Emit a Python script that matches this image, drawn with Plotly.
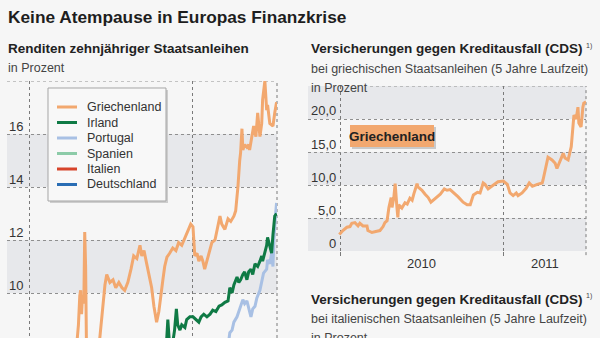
import plotly.graph_objects as go

W, H = 600, 338
FONT = "Liberation Sans, Arial, sans-serif"
BG = "#f6f6f6"
BAND = "#e7e8eb"
GRID = "#8f8f8f"
VGRID = "#7a7a7a"

# ---------------- left chart: 10-year government bond yields (%) ----------------
series_names = ["Griechenland", "Irland", "Portugal", "Spanien", "Italien", "Deutschland"]
series_colors = ["#f2a86f", "#0f7a45", "#a8c0e4", "#8ccba8", "#d7442b", "#2a6db4"]

gr_dates = ["2009-11-13", "2009-12-15", "2010-01-15", "2010-02-01", "2010-03-01", "2010-04-01",
            "2010-04-15", "2010-04-17", "2010-04-21", "2010-04-24", "2010-04-26", "2010-04-28",
            "2010-04-30", "2010-05-03", "2010-05-05", "2010-05-07", "2010-05-09", "2010-05-16",
            "2010-05-27", "2010-06-07", "2010-06-14", "2010-06-19", "2010-06-23", "2010-06-30",
            "2010-07-07", "2010-07-13", "2010-07-20", "2010-07-27", "2010-08-02", "2010-08-09",
            "2010-08-16", "2010-08-22", "2010-08-29", "2010-09-05", "2010-09-09", "2010-09-14",
            "2010-09-20", "2010-09-27", "2010-10-01", "2010-10-06", "2010-10-10", "2010-10-12",
            "2010-10-17", "2010-10-21", "2010-10-26", "2010-10-30", "2010-11-04", "2010-11-10",
            "2010-11-17", "2010-11-24", "2010-11-30", "2010-12-07", "2010-12-14", "2010-12-21",
            "2010-12-27", "2011-01-01", "2011-01-05", "2011-01-10", "2011-01-14", "2011-01-19",
            "2011-01-23", "2011-01-27", "2011-02-01", "2011-02-05", "2011-02-12", "2011-02-19",
            "2011-02-25", "2011-03-02", "2011-03-06", "2011-03-13", "2011-03-20", "2011-03-26",
            "2011-04-02", "2011-04-06", "2011-04-11", "2011-04-13", "2011-04-15", "2011-04-17",
            "2011-04-20", "2011-04-22", "2011-04-26", "2011-05-01", "2011-05-05", "2011-05-07",
            "2011-05-12", "2011-05-16", "2011-05-21", "2011-05-25", "2011-05-30", "2011-06-03",
            "2011-06-05", "2011-06-10", "2011-06-14", "2011-06-16", "2011-06-21", "2011-06-28",
            "2011-07-02", "2011-07-06"]
gr_vals = [4.8, 5.6, 6.0, 6.8, 6.3, 7.0,
           7.4, 8.0, 8.8, 9.9, 10.1, 9.2,
           9.9, 9.6, 12.3, 11.0, 7.8, 7.7,
           7.9, 8.2, 9.5, 10.3, 10.7, 10.4,
           10.5, 10.2, 10.4, 10.2, 10.1, 10.4,
           10.9, 11.4, 11.3, 11.8, 11.4, 11.6,
           11.1, 10.6, 10.2, 9.5, 9.0, 8.9,
           9.3, 9.9, 10.5, 11.0, 11.35, 11.5,
           11.7, 11.6, 11.9, 11.8, 12.1, 12.4,
           12.6, 12.5, 11.4, 11.5, 11.2, 11.4,
           11.2, 10.9, 11.2, 11.5, 11.9, 12.0,
           12.5, 12.9, 12.6, 12.4, 12.8, 12.7,
           12.9, 13.1, 14.0, 14.6, 15.0, 15.3,
           16.2, 15.4, 15.6, 15.5, 15.6, 15.4,
           15.9, 16.3, 15.9, 16.8, 15.9, 16.4,
           17.3, 18.0, 16.9, 17.1, 16.4, 16.3,
           16.8, 17.2]

ie_dates = ["2009-11-13", "2010-01-15", "2010-04-01", "2010-06-01", "2010-08-01", "2010-09-15",
            "2010-10-15", "2010-11-01", "2010-11-02", "2010-11-06", "2010-11-10", "2010-11-15",
            "2010-11-21", "2010-11-25", "2010-11-28", "2010-12-03", "2010-12-07", "2010-12-14",
            "2010-12-18", "2010-12-25", "2011-01-01", "2011-01-07", "2011-01-14", "2011-01-19",
            "2011-01-25", "2011-02-01", "2011-02-08", "2011-02-14", "2011-02-21", "2011-02-28",
            "2011-03-06", "2011-03-13", "2011-03-20", "2011-03-24", "2011-03-29", "2011-04-02",
            "2011-04-09", "2011-04-13", "2011-04-17", "2011-04-22", "2011-04-26", "2011-05-01",
            "2011-05-05", "2011-05-10", "2011-05-14", "2011-05-19", "2011-05-25", "2011-05-30",
            "2011-06-03", "2011-06-05", "2011-06-10", "2011-06-14", "2011-06-16", "2011-06-21",
            "2011-06-25", "2011-06-28", "2011-07-02", "2011-07-06"]
ie_vals = [4.8, 4.7, 4.5, 5.2, 5.4, 6.3,
           6.6, 7.5, 7.9, 9.0, 8.0, 7.9,
           8.6, 9.4, 8.8, 8.6, 8.8, 8.7,
           9.0, 9.1, 9.1, 9.0, 8.9, 9.1,
           9.2, 9.1, 9.2, 9.35, 9.3, 9.5,
           9.55, 9.65, 9.7, 10.2, 10.0, 10.3,
           10.6, 10.4, 10.5, 10.7, 10.8, 10.5,
           10.8, 10.9, 10.7, 11.1, 11.0, 11.2,
           11.4, 11.2, 11.6, 11.8, 12.1, 11.7,
           11.5, 12.2, 12.9, 13.0]

pt_dates = ["2009-11-13", "2010-01-15", "2010-04-15", "2010-05-15", "2010-06-15", "2010-08-15",
            "2010-09-15", "2010-11-15", "2010-12-15", "2011-01-15", "2011-02-15", "2011-03-10",
            "2011-03-20", "2011-03-24", "2011-03-29", "2011-04-02", "2011-04-09", "2011-04-15",
            "2011-04-22", "2011-04-26", "2011-05-01", "2011-05-10", "2011-05-14", "2011-05-19",
            "2011-05-23", "2011-05-30", "2011-06-03", "2011-06-07", "2011-06-14", "2011-06-16",
            "2011-06-21", "2011-06-25", "2011-06-28", "2011-06-30", "2011-07-04", "2011-07-06"]
pt_vals = [4.0, 4.2, 4.8, 5.5, 5.7, 5.5,
           6.3, 7.0, 6.8, 7.0, 7.4, 7.6,
           8.0, 8.5, 8.6, 8.9, 9.1, 9.4,
           9.75, 9.6, 9.7, 9.1, 9.4, 9.5,
           9.8, 10.1, 10.5, 10.75, 10.9, 11.25,
           11.1, 11.5, 11.0, 12.0, 13.0, 13.4]

es_dates = ["2009-11-13", "2010-03-01", "2010-06-15", "2010-09-01", "2010-11-30", "2011-01-10",
            "2011-04-01", "2011-07-06"]
es_vals = [3.8, 3.9, 4.8, 4.1, 5.4, 5.5, 5.3, 5.7]

it_dates = ["2009-11-13", "2010-03-01", "2010-06-15", "2010-09-01", "2010-11-30", "2011-01-10",
            "2011-04-01", "2011-07-06"]
it_vals = [4.0, 4.0, 4.2, 3.9, 4.6, 4.8, 4.7, 5.2]

de_dates = ["2009-11-13", "2010-03-01", "2010-06-15", "2010-09-01", "2010-11-30", "2011-01-10",
            "2011-04-01", "2011-07-06"]
de_vals = [3.3, 3.1, 2.6, 2.3, 2.7, 2.9, 3.4, 2.9]

left_ticks = [8, 10, 12, 14, 16]
left_ticktext = ["8", "10", "12", "14", "16"]
left_bands = [(10, 12), (14, 16)]

# ---------------- right chart: Greek CDS (%) ----------------
cds_dates = ["2009-12-30", "2010-01-07", "2010-01-16", "2010-01-23", "2010-01-27", "2010-02-03",
             "2010-02-10", "2010-02-14", "2010-02-21", "2010-03-02", "2010-03-04", "2010-03-13",
             "2010-03-24", "2010-03-31", "2010-04-07", "2010-04-11", "2010-04-16", "2010-04-20",
             "2010-04-25", "2010-04-27", "2010-05-01", "2010-05-04", "2010-05-08", "2010-05-10",
             "2010-05-12", "2010-05-19", "2010-05-26", "2010-05-31", "2010-06-06", "2010-06-11",
             "2010-06-15", "2010-06-22", "2010-06-24", "2010-07-03", "2010-07-10", "2010-07-17",
             "2010-07-23", "2010-07-28", "2010-08-06", "2010-08-13", "2010-08-22", "2010-08-28",
             "2010-09-04", "2010-09-11", "2010-09-22", "2010-10-03", "2010-10-12", "2010-10-19",
             "2010-10-26", "2010-11-04", "2010-11-10", "2010-11-17", "2010-11-21", "2010-11-28",
             "2010-12-07", "2010-12-14", "2010-12-20", "2011-01-01", "2011-01-10", "2011-01-16",
             "2011-01-23", "2011-01-30", "2011-02-03", "2011-02-12", "2011-02-21", "2011-02-28",
             "2011-03-07", "2011-03-18", "2011-03-29", "2011-03-31", "2011-04-07", "2011-04-11",
             "2011-04-20", "2011-04-27", "2011-05-01", "2011-05-08", "2011-05-15", "2011-05-19",
             "2011-05-26", "2011-06-02", "2011-06-04", "2011-06-08", "2011-06-13", "2011-06-17",
             "2011-06-19", "2011-06-24", "2011-06-28", "2011-06-30", "2011-07-05"]
cds_vals = [2.5, 3.1, 3.6, 3.7, 4.2, 4.3,
            3.8, 4.2, 3.8, 3.8, 3.1, 2.8,
            3.0, 3.1, 3.7, 4.3, 4.6, 6.6,
            8.1, 6.6, 8.1, 10.2, 6.6, 5.1,
            7.0, 6.5, 7.3, 7.1, 8.0, 7.7,
            8.7, 10.2, 9.7, 9.2, 8.6, 8.1,
            7.4, 7.7, 8.1, 8.6, 9.4, 9.2,
            9.3, 8.9, 8.2, 7.4, 7.0, 7.0,
            8.5, 8.9, 8.8, 10.3, 10.1, 9.4,
            9.8, 10.1, 10.5, 10.6, 10.1, 8.8,
            8.4, 8.8, 8.4, 8.8, 9.5, 10.3,
            9.8, 10.1, 10.3, 10.8, 12.7, 14.2,
            13.8, 13.3, 12.5, 13.8, 14.8, 14.1,
            13.8, 15.8, 17.6, 20.6, 20.0, 21.8,
            19.4, 18.8, 21.8, 22.4, 22.6]

cds_ticks = [0, 5, 10, 15, 20]
cds_ticktext = ["0", "5,0", "10,0", "15,0", "20,0"]
cds_bands = [(0, 5), (10, 15), (20, 25)]
year_label_dates = ["2010-07-02", "2011-04-04"]
year_labels = ["2010", "2011"]
year_bounds = ["2010-01-01", "2011-01-01"]


def px(x):
    return x / W


def py(y):
    return 1 - y / H


fig = go.Figure()

left_series = {
    "Griechenland": (gr_dates, gr_vals),
    "Irland": (ie_dates, ie_vals),
    "Portugal": (pt_dates, pt_vals),
    "Spanien": (es_dates, es_vals),
    "Italien": (it_dates, it_vals),
    "Deutschland": (de_dates, de_vals),
}
for name in reversed(series_names):
    d, v = left_series[name]
    col = series_colors[series_names.index(name)]
    fig.add_trace(go.Scatter(x=d, y=v, mode="lines", name=name, showlegend=False,
                             line=dict(color=col, width=3), xaxis="x", yaxis="y",
                             hoverinfo="skip"))

fig.add_trace(go.Scatter(x=cds_dates, y=cds_vals, mode="lines", name="Griechenland CDS",
                         showlegend=False, line=dict(color=series_colors[0], width=3),
                         xaxis="x2", yaxis="y2", hoverinfo="skip"))

shapes = []
for y0, y1 in left_bands:
    shapes.append(dict(type="rect", xref="x domain", yref="y", x0=0, x1=1, y0=y0, y1=y1,
                       fillcolor=BAND, line=dict(width=0), layer="below"))
for y0, y1 in cds_bands:
    shapes.append(dict(type="rect", xref="x2 domain", yref="y2", x0=0, x1=1, y0=y0, y1=y1,
                       fillcolor=BAND, line=dict(width=0), layer="below"))
# top line left chart
shapes.append(dict(type="line", xref="x domain", yref="y", x0=0, x1=1, y0=18, y1=18,
                   line=dict(color=GRID, width=1, dash="dot"), layer="below"))
# right edge lines
shapes.append(dict(type="line", xref="x domain", yref="y domain", x0=1, x1=1, y0=0, y1=1,
                   line=dict(color=VGRID, width=1, dash="dot"), layer="below"))
shapes.append(dict(type="line", xref="x2 domain", yref="y2 domain", x0=1, x1=1, y0=-0.025, y1=1,
                   line=dict(color=VGRID, width=1, dash="dot"), layer="below"))
# top line right chart (starts after "in Prozent")
shapes.append(dict(type="line", xref="paper", yref="y2", x0=px(370), x1=px(586), y0=25, y1=25,
                   line=dict(color=GRID, width=1, dash="dot"), layer="below"))

annotations = []

# legend box
shapes.append(dict(type="rect", xref="paper", yref="paper", x0=px(50), x1=px(168),
                   y0=py(203), y1=py(90), fillcolor="#cdcdcd", line=dict(width=0), layer="above"))
shapes.append(dict(type="rect", xref="paper", yref="paper", x0=px(48), x1=px(166),
                   y0=py(201), y1=py(88), fillcolor="#f8f8f8",
                   line=dict(color="#a5a5a5", width=1), layer="above"))
for i, (name, col) in enumerate(zip(series_names, series_colors)):
    yy = 107 + 15.5 * i
    shapes.append(dict(type="line", xref="paper", yref="paper", x0=px(57), x1=px(77),
                       y0=py(yy), y1=py(yy), line=dict(color=col, width=3), layer="above"))
    annotations.append(dict(text=name, x=px(85), y=py(yy), xref="paper", yref="paper",
                            xanchor="left", yanchor="middle", showarrow=False,
                            font=dict(family=FONT, size=12.5, color="#333")))

# Griechenland label box in CDS chart
shapes.append(dict(type="rect", xref="paper", yref="paper", x0=px(352), x1=px(436),
                   y0=py(149), y1=py(127), fillcolor="#c9c9c9", line=dict(width=0), layer="above"))
shapes.append(dict(type="rect", xref="paper", yref="paper", x0=px(350), x1=px(434),
                   y0=py(147), y1=py(125), fillcolor="#f2a86f", line=dict(width=0), layer="above"))
annotations.append(dict(text="<b>Griechenland</b>", x=px(392), y=py(136), xref="paper",
                        yref="paper", xanchor="center", yanchor="middle", showarrow=False,
                        font=dict(family=FONT, size=13.5, color="#222")))

texts = [
    ("<b>Keine Atempause in Europas Finanzkrise</b>", 6, 17, 17.3, "#1e1e1e"),
    ("<b>Renditen zehnjähriger Staatsanleihen</b>", 6, 48, 13.5, "#222"),
    ("in Prozent", 6, 68, 12.5, "#444"),
    ("<b>Versicherungen gegen Kreditausfall (CDS)</b>", 309, 49, 13.5, "#222"),
    ("bei griechischen Staatsanleihen (5 Jahre Laufzeit)", 309, 69, 12.5, "#444"),
    ("in Prozent", 309, 88, 12.5, "#444"),
    ("<b>Versicherungen gegen Kreditausfall (CDS)</b>", 309, 299, 13.5, "#222"),
    ("bei italienischen Staatsanleihen (5 Jahre Laufzeit)", 309, 319, 12.5, "#444"),
    ("in Prozent", 309, 338, 12.5, "#444"),
    ("1)", 584, 46, 7, "#444"),
    ("1)", 584, 296, 7, "#444"),
]
for t, x, y, s, c in texts:
    annotations.append(dict(text=t, x=px(x), y=py(y), xref="paper", yref="paper",
                            xanchor="left", yanchor="middle", showarrow=False,
                            font=dict(family=FONT, size=s, color=c)))

# y tick labels, placed just above their gridlines via the axis scales
for v, t in zip(left_ticks, left_ticktext):
    annotations.append(dict(text=t, x=px(7), y=v, xref="paper", yref="y", yshift=8,
                            xanchor="left", yanchor="middle", showarrow=False,
                            font=dict(family=FONT, size=13, color="#333")))
for v, t in zip(cds_ticks, cds_ticktext):
    annotations.append(dict(text=t, x=px(338), y=v, xref="paper", yref="y2", yshift=8,
                            xanchor="right", yanchor="middle", showarrow=False,
                            font=dict(family=FONT, size=13, color="#333")))

fig.update_layout(
    width=W, height=H, margin=dict(l=0, r=0, t=0, b=0, autoexpand=False),
    paper_bgcolor=BG, plot_bgcolor=BG, showlegend=False,
    font=dict(family=FONT, size=13, color="#333"),
    xaxis=dict(domain=[px(7), px(277)], anchor="y", type="date", automargin=False,
               range=["2009-11-13", "2011-07-07"], tickmode="array", tickvals=year_bounds,
               showticklabels=False, ticks="", showgrid=True, gridcolor=VGRID, griddash="dot",
               gridwidth=1, zeroline=False, showline=False),
    yaxis=dict(domain=[0, py(81)], anchor="x", range=[8.302, 18], tickmode="array",
               tickvals=left_ticks, showticklabels=False, showgrid=True, gridcolor=GRID,
               griddash="dot", gridwidth=1, zeroline=False, showline=False, ticks="",
               automargin=False),
    xaxis2=dict(domain=[px(308), px(586)], anchor="y2", type="date", automargin=False,
                range=["2009-10-21", "2011-07-05"], tickmode="array",
                tickvals=year_label_dates, ticktext=year_labels, ticks="", showgrid=False,
                zeroline=False, showline=False, ticklabelstandoff=3,
                tickfont=dict(family=FONT, size=13, color="#333"),
                minor=dict(tickmode="array", tickvals=year_bounds, showgrid=True,
                           gridcolor=VGRID, griddash="dot", gridwidth=1, ticks="outside",
                           ticklen=4, tickcolor=VGRID)),
    yaxis2=dict(domain=[1 - 251 / H, py(86)], anchor="x2", range=[0, 25], tickmode="array",
                tickvals=cds_ticks, showticklabels=False, showgrid=True, gridcolor=GRID,
                griddash="dot", gridwidth=1, zeroline=False, showline=False, ticks="",
                automargin=False),
    shapes=shapes, annotations=annotations,
)

fig.write_html("out.html")
